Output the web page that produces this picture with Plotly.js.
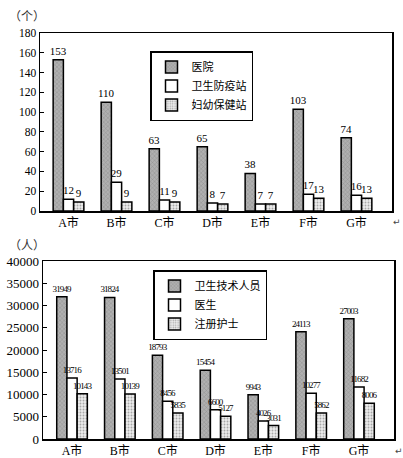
<!DOCTYPE html>
<html><head><meta charset="utf-8">
<script src="https://cdn.plot.ly/plotly-3.0.1.min.js"></script>
<style>
body{margin:0;padding:0;background:#fff;}
#chart{width:403px;height:458px;}
</style>
</head><body>
<div id="chart"></div>
<script>
var cities = ['A市','B市','C市','D市','E市','F市','G市'];
// Top chart: number of institutions (个)
var hospitals = [153,110,63,65,38,103,74];
var epidemicStations = [12,29,11,8,7,17,16];
var maternalStations = [9,9,9,7,7,13,13];
// Bottom chart: number of personnel (人)
var techStaff = [31949,31824,18793,15454,9943,24113,27003];
var doctors = [13716,13501,8456,6600,4026,10277,11682];
var nurses = [10143,10139,5835,5127,3031,5862,8006];

var serif = "'Liberation Serif', 'Times New Roman', 'Noto Sans CJK SC', serif";
var cjk = "'Noto Sans CJK SC', 'Liberation Serif', sans-serif";

var grayFill = {color:'#a9a9a9', line:{color:'#000', width:1.5}, pattern:{shape:'x', fgcolor:'#808080', bgcolor:'#b0b0b0', size:3, solidity:0.2}};
var whiteFill = {color:'#ffffff', line:{color:'#000', width:1.5}};
var dotFill = {color:'#e2e2e2', line:{color:'#000', width:1.5}, pattern:{shape:'.', fgcolor:'#a8a8a8', bgcolor:'#ececec', size:3, solidity:0.3}};

function bar(name, y, marker, xa, ya, leg, fs){
  return {type:'bar', name:name, x:cities, y:y, marker:marker, xaxis:xa, yaxis:ya, legend:leg,
    text:y.map(String), textposition:'outside', cliponaxis:false, constraintext:'none',
    textfont:{family:serif, size:fs, color:'#000'}, hoverinfo:'skip'};
}

var traces = [
  bar('医院', hospitals, grayFill, 'x', 'y', 'legend', 11),
  bar('卫生防疫站', epidemicStations, whiteFill, 'x', 'y', 'legend', 11),
  bar('妇幼保健站', maternalStations, dotFill, 'x', 'y', 'legend', 11),
  bar('卫生技术人员', techStaff, grayFill, 'x2', 'y2', 'legend2', 9),
  bar('医生', doctors, whiteFill, 'x2', 'y2', 'legend2', 9),
  bar('注册护士', nurses, dotFill, 'x2', 'y2', 'legend2', 9)
];

function xax(dom, anchor, rng){
  return {domain:dom, anchor:anchor, type:'category', range:rng, showline:true, mirror:true,
    linecolor:'#000', linewidth:1.5, ticks:'', showgrid:false, zeroline:false,
    tickfont:{family:serif, size:12, color:'#000'}, fixedrange:true};
}
function yax(dom, anchor, rng, dt, fs){
  return {domain:dom, anchor:anchor, range:rng, dtick:dt, tick0:0, showline:true, mirror:true,
    linecolor:'#000', linewidth:1.5, ticks:'inside', ticklen:4, tickcolor:'#000', tickwidth:1,
    tickformat:'d', exponentformat:'none', separatethousands:false,
    showgrid:false, zeroline:false, tickfont:{family:serif, size:fs, color:'#000'}, fixedrange:true};
}

var layout = {
  width:403, height:458, margin:{l:0,r:0,t:0,b:0}, paper_bgcolor:'#fff', plot_bgcolor:'#fff',
  barmode:'group', bargap:0.36, bargroupgap:0, showlegend:true,
  xaxis: xax([40/403, 392/403], 'y', [-0.594, 6.74]),
  yaxis: yax([1-211/458, 1-33/458], 'x', [0,180], 20, 11.5),
  xaxis2: xax([43/403, 394/403], 'y2', [-0.607, 6.732]),
  yaxis2: yax([1-439/458, 1-261/458], 'x2', [0,40000], 5000, 13),
  legend: {x:150/403, y:1-51/458, xanchor:'left', yanchor:'top', bgcolor:'#fff', bordercolor:'#000', borderwidth:1.5,
    font:{family:cjk, size:11, color:'#000'}, itemwidth:30, tracegroupgap:0},
  legend2: {x:153/403, y:1-270/458, xanchor:'left', yanchor:'top', bgcolor:'#fff', bordercolor:'#000', borderwidth:1.5,
    font:{family:cjk, size:11, color:'#000'}, itemwidth:30, tracegroupgap:0},
  annotations: [
    {text:'（个）', x:27/403, y:1-15/458, xref:'paper', yref:'paper', xanchor:'center', yanchor:'middle', showarrow:false, font:{family:cjk, size:12, color:'#333'}},
    {text:'（人）', x:27/403, y:1-244/458, xref:'paper', yref:'paper', xanchor:'center', yanchor:'middle', showarrow:false, font:{family:cjk, size:12, color:'#333'}},
    {text:'↵', x:397/403, y:1-222/458, xref:'paper', yref:'paper', xanchor:'center', yanchor:'middle', showarrow:false, font:{family:"'DejaVu Sans'", size:9, color:'#444'}},
    {text:'↵', x:399/403, y:1-451/458, xref:'paper', yref:'paper', xanchor:'center', yanchor:'middle', showarrow:false, font:{family:"'DejaVu Sans'", size:9, color:'#444'}}
  ]
};

Plotly.newPlot('chart', traces, layout, {displayModeBar:false, staticPlot:true}).then(function(){
  var gd = document.getElementById('chart');
  var trs = gd.querySelectorAll('.barlayer .trace');
  for (var i = 3; i < trs.length; i++) {
    var ts = trs[i].querySelectorAll('text');
    for (var j = 0; j < ts.length; j++) ts[j].style.letterSpacing = '-0.9px';
  }
});
</script>
</body></html>
